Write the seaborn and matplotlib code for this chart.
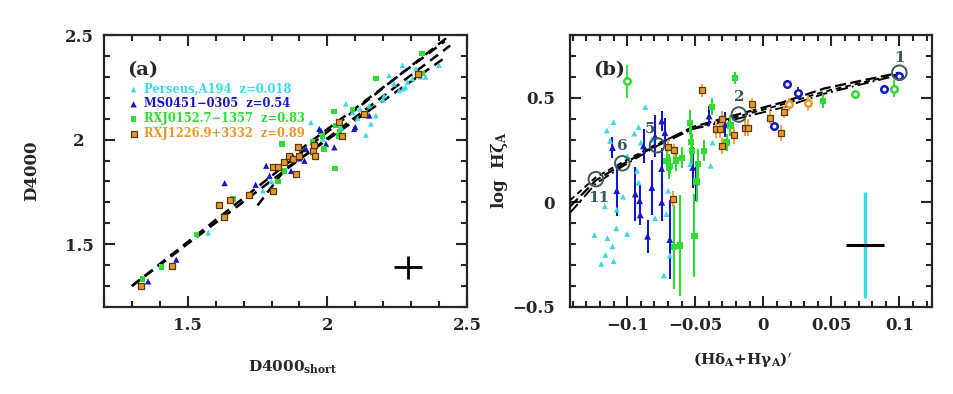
import numpy as np
import pandas as pd
import matplotlib
matplotlib.use("Agg")
import matplotlib.pyplot as plt
from matplotlib.ticker import MultipleLocator
import seaborn as sns

# ---------------- data: panel (a) ----------------
pers_a_x = [2.40, 2.269, 2.287, 2.257, 2.239, 2.221, 2.352, 2.317, 2.203, 2.156, 2.138, 2.15, 2.108, 2.066,
            2.117, 2.049, 1.983, 2.174, 2.305, 1.941, 1.769, 1.573, 2.334, 2.271, 2.09, 2.20, 2.28, 1.80]
pers_a_y = [2.356, 2.356, 2.275, 2.235, 2.267, 2.307, 2.30, 2.34, 2.21, 2.075, 2.022, 2.163, 2.102, 2.171,
            2.147, 2.059, 2.003, 2.115, 2.292, 2.083, 1.755, 1.554, 2.30, 2.243, 2.13, 2.19, 2.25, 1.80]

ms_a_x = [1.632, 1.743, 1.781, 1.793, 1.459, 1.358, 1.918, 1.924, 1.971, 2.025, 2.096, 2.15, 1.87, 1.995,
          1.977, 2.10, 1.90]
ms_a_y = [1.792, 1.784, 1.875, 1.827, 1.426, 1.322, 1.899, 1.955, 2.051, 1.963, 2.051, 2.115, 1.85, 1.979,
          2.043, 2.06, 1.91]

rxj0152_a_x = [2.174, 2.338, 2.025, 2.09, 1.838, 2.028, 2.031, 1.823, 1.662, 1.531, 1.406, 1.338, 1.989,
               1.947, 1.846, 2.043, 2.34, 1.983, 2.04]
rxj0152_a_y = [2.292, 2.316, 2.135, 2.144, 1.979, 1.862, 2.067, 1.80, 1.715, 1.546, 1.391, 1.333, 1.955,
               1.987, 1.851, 2.035, 2.412, 2.019, 2.019]

rxj1226_a_x = [1.332, 1.442, 1.612, 1.65, 1.629, 1.719, 1.805, 1.805, 1.823, 1.846, 1.864, 1.876, 1.894,
               1.897, 1.888, 1.947, 1.957, 2.043, 2.052, 2.132, 2.326, 1.953]
rxj1226_a_y = [1.301, 1.394, 1.686, 1.71, 1.631, 1.734, 1.755, 1.867, 1.867, 1.891, 1.923, 1.907, 1.963,
               1.923, 1.835, 1.947, 1.923, 2.083, 2.019, 2.123, 2.316, 1.974]

# dashed fits in panel (a)
fit_a = [
    ([1.30, 2.44], [1.30, 2.50]),
    ([1.30, 2.44], [1.30, 2.45]),
    ([1.75, 1.85, 2.43], [1.685, 1.86, 2.40]),
    ([1.85, 2.42], [1.90, 2.47]),
]
cross_a = (2.29, 1.39, 0.05, 0.055)

# ---------------- data: panel (b) ----------------
pers_b_x = [-0.0867, -0.110, -0.115, -0.0916, -0.0947, -0.0899, -0.1125, -0.0928, -0.0373, -0.0386, -0.0537,
            -0.1164, -0.1077, -0.103, -0.124, -0.1145, -0.108, -0.10, -0.1108, -0.116, -0.119, -0.110,
            -0.0916, -0.0795, -0.0711, -0.0699, -0.0687, -0.073, -0.100, -0.082]
pers_b_y = [0.456, 0.384, 0.344, 0.360, 0.329, 0.286, 0.294, 0.151, 0.286, 0.175, 0.183,
            -0.019, -0.035, 0.027, -0.156, -0.171, -0.124, -0.151, -0.21, -0.251, -0.294, -0.281,
            0.095, -0.076, -0.056, 0.056, -0.254, -0.349, 0.222, 0.30]

ms_b_x = [-0.1108, -0.1077, -0.094, -0.0909, -0.0904, -0.085, -0.0819, -0.0746, -0.0747, -0.0795, -0.0747,
          -0.0723, -0.0687, -0.0494, -0.0518, -0.0398, -0.028, -0.088]
ms_b_y = [0.262, 0.056, 0.040, 0.008, -0.06, -0.162, 0.071, 0.0, 0.162, 0.317, 0.389,
          0.333, -0.178, 0.098, 0.167, 0.413, 0.373, 0.27]
ms_b_err = [0.05, 0.12, 0.13, 0.08, 0.05, 0.08, 0.13, 0.09, 0.10, 0.10, 0.05,
            0.07, 0.19, 0.09, 0.10, 0.05, 0.06, 0.08]
ms_o_x = [0.0176, 0.0258, 0.0079, 0.089, 0.10]
ms_o_y = [0.567, 0.524, 0.365, 0.54, 0.603]
ms_o_err = [0.02, 0.03, 0.02, 0.02, 0.02]

rxj0152_b_x = [-0.0205, -0.0378, -0.054, -0.053, -0.0435, -0.0711, -0.069, -0.064, -0.060, -0.0523, -0.0687,
               -0.048, -0.0506, -0.0658, -0.0614, -0.0241, -0.027, -0.049, 0.0436]
rxj0152_b_y = [0.595, 0.457, 0.381, 0.29, 0.246, 0.198, 0.17, 0.2, 0.214, 0.246, 0.175,
               0.183, -0.159, -0.214, -0.206, 0.368, 0.286, 0.10, 0.484]
rxj0152_b_err = [0.03, 0.04, 0.06, 0.10, 0.05, 0.05, 0.06, 0.05, 0.05, 0.08, 0.04,
                 0.07, 0.20, 0.20, 0.24, 0.05, 0.04, 0.10, 0.035]
rxj0152_o_x = [-0.10, 0.0675, 0.0964]
rxj0152_o_y = [0.579, 0.516, 0.544]
rxj0152_o_err = [0.08, 0.02, 0.04]

rxj1226_b_x = [-0.045, -0.0084, -0.030, -0.035, -0.032, -0.0133, -0.011, -0.0699, -0.0656, -0.0306, -0.0217,
               0.0048, 0.0128, 0.0152, -0.0663]
rxj1226_b_y = [0.536, 0.468, 0.397, 0.349, 0.349, 0.357, 0.357, 0.267, 0.249, 0.27, 0.32,
               0.405, 0.332, 0.433, 0.016]
rxj1226_b_err = [0.03, 0.03, 0.04, 0.04, 0.04, 0.04, 0.04, 0.03, 0.03, 0.04, 0.04,
                 0.03, 0.04, 0.03, 0.04]
rxj1226_o_x = [0.019, 0.033]
rxj1226_o_y = [0.468, 0.473]
rxj1226_o_err = [0.03, 0.035]

# model curves in panel (b)
fit_b_x = [-0.142, -0.123, -0.104, -0.078, -0.052, -0.019, 0.015, 0.045, 0.10]
fit_b_y1 = [-0.02, 0.105, 0.18, 0.275, 0.36, 0.42, 0.48, 0.545, 0.62]
fit_b_y2 = [0.01, 0.12, 0.19, 0.28, 0.355, 0.41, 0.47, 0.53, 0.615]
fit_b_y3 = [-0.05, 0.09, 0.17, 0.27, 0.35, 0.40, 0.455, 0.52, 0.61]

model_labels = ["1", "2", "5", "6", "11"]
model_x = [0.100, -0.018, -0.078, -0.1036, -0.123]
model_y = [0.620, 0.420, 0.273, 0.187, 0.111]
model_lab_x = [0.100, -0.018, -0.0836, -0.1036, -0.121]
model_lab_y = [0.690, 0.505, 0.352, 0.270, 0.020]

cross_b = (0.075, -0.203, 0.014, 0.254)

# ---------------- style ----------------
sns.set_style("ticks")
plt.rcParams["font.family"] = ["DejaVu Serif"]
plt.rcParams["mathtext.fontset"] = "dejavuserif"
plt.rcParams["font.weight"] = "bold"

CYAN = "#38dbe8"
BLUE = "#1616c8"
GREEN = "#2fdc2f"
ORANGE = "#e8982a"
OEDGE = "#5a3a10"
GRAY = "#3d5a5a"

fig = plt.figure(figsize=(9.54, 3.94), dpi=100)
ax1 = fig.add_axes([0.109, 0.221, 0.3805, 0.690])
ax2 = fig.add_axes([0.5975, 0.221, 0.3795, 0.690])


def style_axis(ax):
    for s in ax.spines.values():
        s.set_linewidth(1.6)
    ax.tick_params(which="both", direction="in", top=True, right=True, width=1.5, labelsize=12, pad=7)
    ax.tick_params(which="major", length=8)
    ax.tick_params(which="minor", length=4.5)
    for lab in ax.get_xticklabels() + ax.get_yticklabels():
        lab.set_fontweight("bold")


# ---------------- panel (a) ----------------
for fx, fy in fit_a:
    ax1.plot(fx, fy, color="black", ls=(0, (4, 2.5)), lw=1.8, zorder=3)

sns.scatterplot(x=pers_a_x, y=pers_a_y, ax=ax1, marker="^", s=16, color=CYAN, edgecolor="none",
                label="Perseus,A194  z=0.018", zorder=4)
sns.scatterplot(x=ms_a_x, y=ms_a_y, ax=ax1, marker="^", s=20, color=BLUE, edgecolor="none",
                label="MS0451\u22120305  z=0.54", zorder=4)
sns.scatterplot(x=rxj0152_a_x, y=rxj0152_a_y, ax=ax1, marker="s", s=17, color=GREEN, edgecolor="none",
                label="RXJ0152.7\u22121357  z=0.83", zorder=4)
sns.scatterplot(x=rxj1226_a_x, y=rxj1226_a_y, ax=ax1, marker="s", s=21, color=ORANGE, edgecolor=OEDGE,
                linewidth=0.9, label="RXJ1226.9+3332  z=0.89", zorder=5)

ax1.errorbar([cross_a[0]], [cross_a[1]], xerr=[cross_a[2]], yerr=[cross_a[3]], fmt="none",
             ecolor="black", elinewidth=2, capsize=0)

ax1.set_xlim(1.2, 2.5)
ax1.set_ylim(1.2, 2.5)
ax1.xaxis.set_minor_locator(MultipleLocator(0.1))
ax1.yaxis.set_minor_locator(MultipleLocator(0.1))
ax1.set_xticks([1.5, 2, 2.5])
ax1.set_xticklabels(["1.5", "2", "2.5"])
ax1.set_yticks([1.5, 2, 2.5])
ax1.set_yticklabels(["1.5", "2", "2.5"])
style_axis(ax1)
ax1.tick_params(axis="y", pad=18)
for lab in ax1.get_yticklabels():
    lab.set_horizontalalignment("center")
ax1.set_xlabel(r"D4000$_{\mathbf{short}}$", fontsize=11, fontweight="bold")
ax1.xaxis.set_label_coords(0.52, -0.19)
ax1.set_ylabel("D4000", fontsize=12, fontweight="bold")
ax1.yaxis.set_label_coords(-0.176, 0.5)
ax1.text(0.063, 0.871, "(a)", transform=ax1.transAxes, fontsize=14, fontweight="bold",
         ha="left", va="center")

ax1.legend(loc="upper left", bbox_to_anchor=(0.072, 0.825), frameon=False,
           handlelength=0.6, handletextpad=0.6, labelspacing=0.15, borderpad=0,
           borderaxespad=0, labelcolor=[CYAN, BLUE, GREEN, ORANGE],
           prop={"weight": "bold", "size": 8.3})

# ---------------- panel (b) ----------------
ax2.plot(fit_b_x, fit_b_y1, color="black", ls=(0, (5, 2)), lw=1.6, zorder=3)
ax2.plot(fit_b_x, fit_b_y2, color="black", ls=(0, (3, 2)), lw=1.4, zorder=3)
ax2.plot(fit_b_x, fit_b_y3, color="black", ls=(0, (6, 2, 1, 2)), lw=1.4, zorder=3)

ax2.errorbar(ms_b_x, ms_b_y, yerr=ms_b_err, fmt="none", ecolor=BLUE, elinewidth=1.5, zorder=4)
ax2.errorbar(rxj0152_b_x, rxj0152_b_y, yerr=rxj0152_b_err, fmt="none", ecolor=GREEN, elinewidth=1.5, zorder=4)
ax2.errorbar(rxj1226_b_x, rxj1226_b_y, yerr=rxj1226_b_err, fmt="none", ecolor="#eeaa40", elinewidth=1.5, zorder=4)
ax2.errorbar(ms_o_x, ms_o_y, yerr=ms_o_err, fmt="none", ecolor=BLUE, elinewidth=1.3, zorder=4)
ax2.errorbar(rxj0152_o_x, rxj0152_o_y, yerr=rxj0152_o_err, fmt="none", ecolor=GREEN, elinewidth=1.3, zorder=4)
ax2.errorbar(rxj1226_o_x, rxj1226_o_y, yerr=rxj1226_o_err, fmt="none", ecolor="#eeaa40", elinewidth=1.3, zorder=4)

sns.scatterplot(x=pers_b_x, y=pers_b_y, ax=ax2, marker="^", s=18, color=CYAN, edgecolor="none", zorder=5)
sns.scatterplot(x=ms_b_x, y=ms_b_y, ax=ax2, marker="^", s=24, color=BLUE, edgecolor="none", zorder=5)
sns.scatterplot(x=rxj0152_b_x, y=rxj0152_b_y, ax=ax2, marker="s", s=20, color=GREEN, edgecolor="none", zorder=5)
sns.scatterplot(x=rxj1226_b_x, y=rxj1226_b_y, ax=ax2, marker="s", s=22, color=ORANGE, edgecolor=OEDGE,
                linewidth=0.9, zorder=6)
sns.scatterplot(x=ms_o_x, y=ms_o_y, ax=ax2, marker="o", s=22, facecolor="white", edgecolor=BLUE,
                linewidth=1.8, zorder=6)
sns.scatterplot(x=rxj0152_o_x, y=rxj0152_o_y, ax=ax2, marker="o", s=22, facecolor="white", edgecolor=GREEN,
                linewidth=1.8, zorder=6)
sns.scatterplot(x=rxj1226_o_x, y=rxj1226_o_y, ax=ax2, marker="o", s=22, facecolor="white", edgecolor=ORANGE,
                linewidth=1.8, zorder=6)

ax2.scatter(model_x, model_y, s=110, facecolor="none", edgecolor=GRAY, linewidth=1.4, zorder=7)
for lab, lx, ly in zip(model_labels, model_lab_x, model_lab_y):
    ax2.text(lx, ly, lab, color=GRAY, fontsize=11, fontweight="bold", ha="center", va="center", zorder=8)

ax2.errorbar([cross_b[0]], [cross_b[1]], xerr=[cross_b[2]], fmt="none", ecolor="black", elinewidth=2.2,
             capsize=0, zorder=5)
ax2.errorbar([cross_b[0]], [cross_b[1]], yerr=[cross_b[3]], fmt="none", ecolor=CYAN, elinewidth=2.4,
             capsize=0, zorder=4)

ax2.set_xlim(-0.142, 0.124)
ax2.set_ylim(-0.5, 0.8)
ax2.xaxis.set_minor_locator(MultipleLocator(0.01))
ax2.yaxis.set_minor_locator(MultipleLocator(0.1))
ax2.set_xticks([-0.1, -0.05, 0, 0.05, 0.1])
ax2.set_xticklabels(["\u22120.1", "\u22120.05", "0", "0.05", "0.1"])
ax2.set_yticks([-0.5, 0, 0.5])
ax2.set_yticklabels(["\u22120.5", "0", "0.5"])
style_axis(ax2)
ax2.tick_params(axis="y", pad=11)
ax2.set_xlabel(r"(H$\mathbf{\delta_{A}}$+H$\mathbf{\gamma_{A}}$)$\mathbf{'}$", fontsize=11, fontweight="bold")
ax2.xaxis.set_label_coords(0.475, -0.157)
ax2.set_ylabel(r"log  H$\mathbf{\zeta_{A}}$", fontsize=12, fontweight="bold")
ax2.yaxis.set_label_coords(-0.166, 0.504)
ax2.text(0.064, 0.871, "(b)", transform=ax2.transAxes, fontsize=14, fontweight="bold",
         ha="left", va="center")

fig.savefig("out.png", dpi=100)
